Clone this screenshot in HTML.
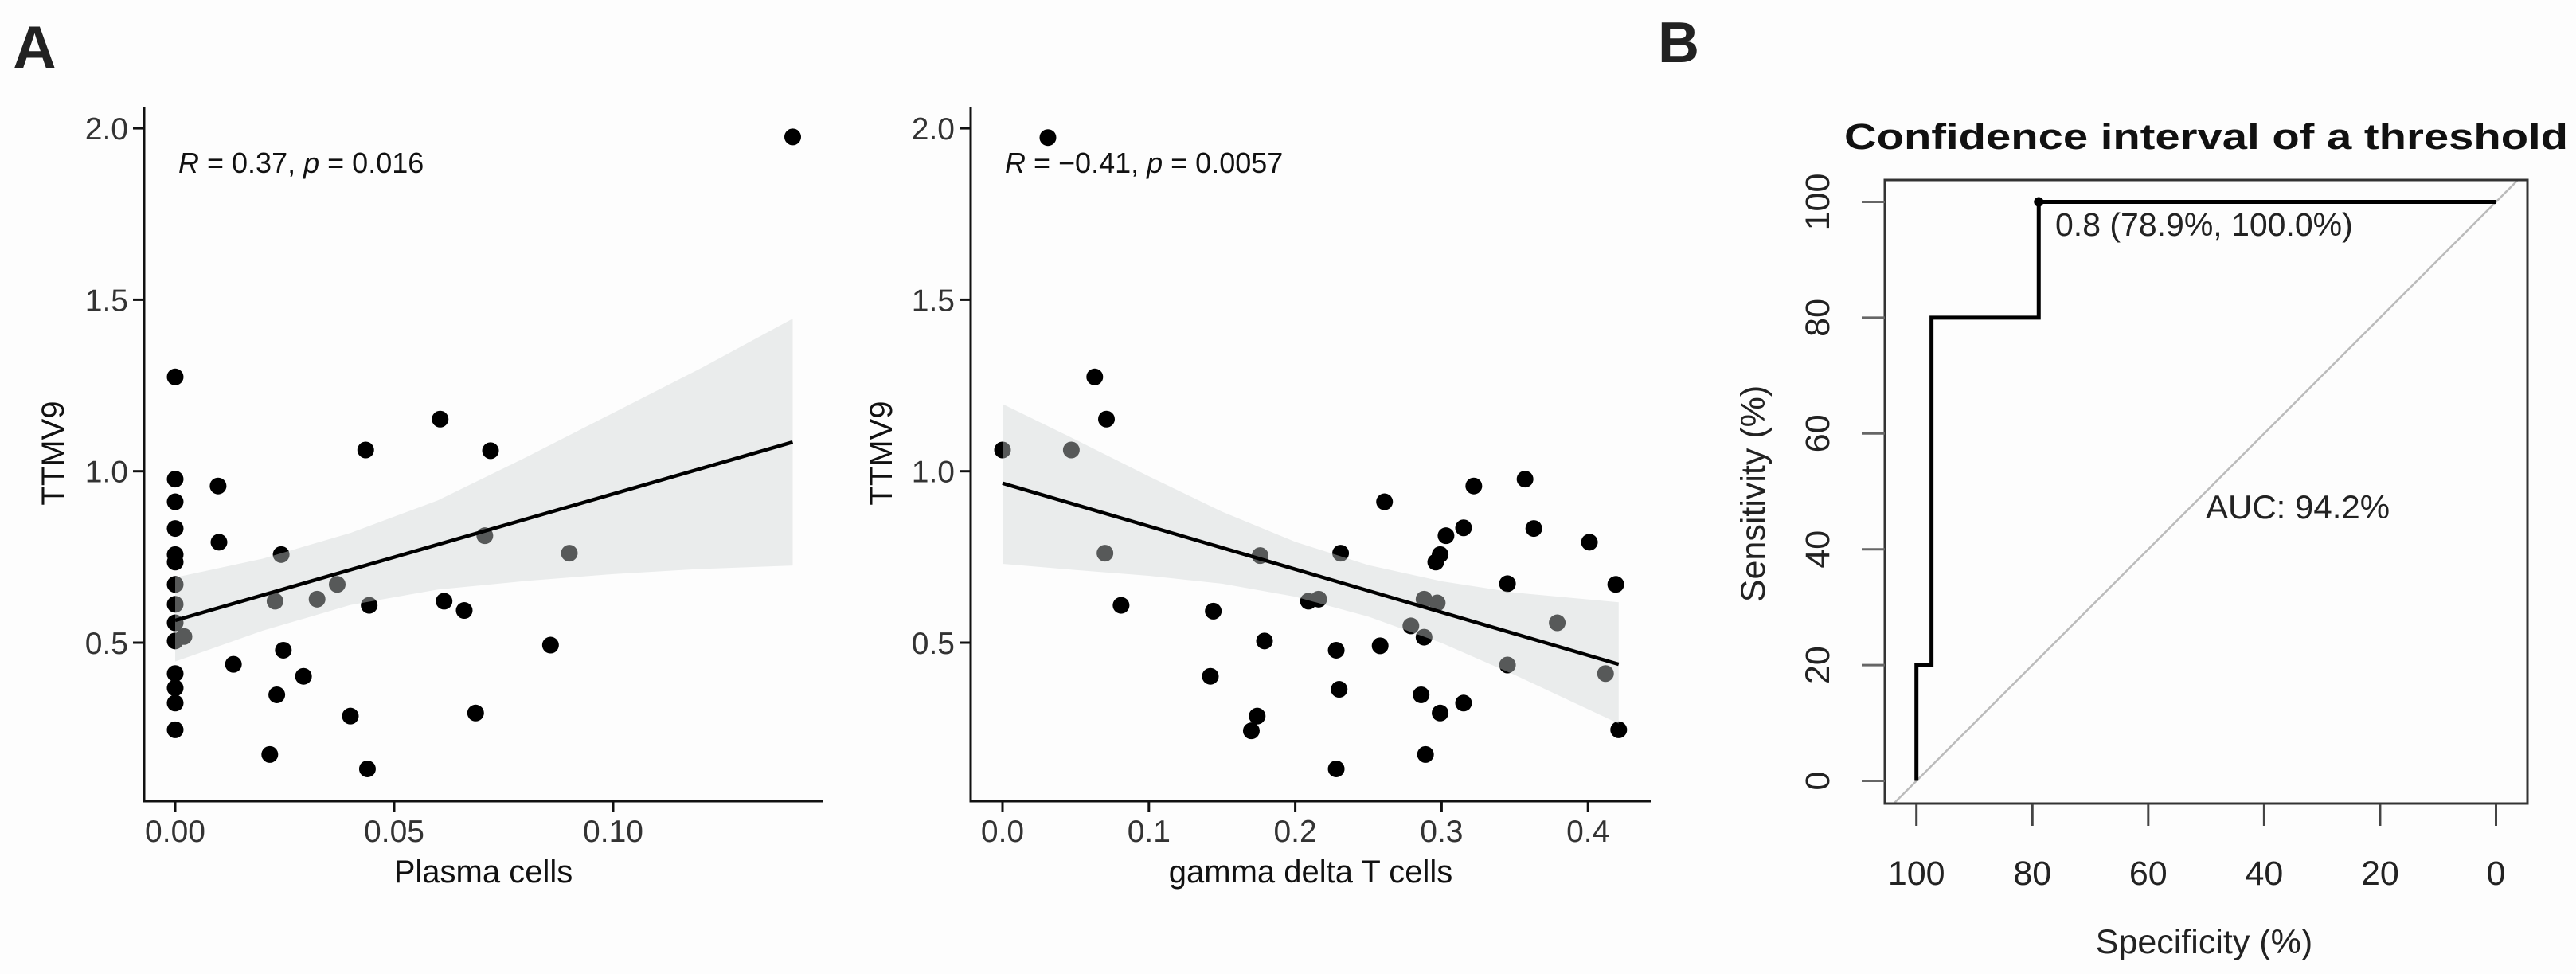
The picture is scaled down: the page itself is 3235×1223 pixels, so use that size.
<!DOCTYPE html>
<html><head><meta charset="utf-8"><style>
html,body{margin:0;padding:0;background:#fdfdfd;}
svg{display:block;font-family:"Liberation Sans",Arial,sans-serif;}
</style></head><body>
<svg id="fig" width="3235" height="1223" viewBox="0 0 3235 1223">
<rect x="0" y="0" width="3235" height="1223" fill="#fdfdfd"/>
<text x="16" y="86" font-size="76" font-weight="bold" fill="#222">A</text>
<text x="2082" y="78" font-size="72" font-weight="bold" fill="#222">B</text>
<g id="p1"></g>
<g id="p2"></g>
<g id="p3"></g>
</svg>
<script>
// ---- Panel 1 data ----
const p1X = [0,0.141,0,0,0,0,0,0,0,0,0,0.002,0,0,0,0,0.0098,0.010,0.0133,0.0216,0.0232,0.0228,0.0242,0.0247,0.0293,0.0324,0.037,0.040,0.0435,0.0443,0.0439,0.0605,0.0614,0.066,0.0686,0.072,0.0707,0.0857,0.090];
const p1Y = [1.275,1.975,0.977,0.911,0.833,0.757,0.735,0.67,0.612,0.558,0.505,0.518,0.41,0.368,0.324,0.246,0.957,0.793,0.437,0.174,0.348,0.621,0.757,0.478,0.402,0.627,0.67,0.286,1.062,0.609,0.132,1.152,0.621,0.594,0.295,1.06,0.812,0.493,0.761];
const p1BandX = [0,0.02,0.04,0.06,0.08,0.10,0.12,0.141];
const p1BandLo = [0.445,0.535,0.61,0.655,0.68,0.70,0.715,0.725];
const p1BandHi = [0.69,0.745,0.82,0.915,1.04,1.17,1.30,1.445];
const p1Fit = [0.565,1.085];
const p1XTicks = [0,0.05,0.10];
const p1XTickLabels = ["0.00","0.05","0.10"];
const yTicks = [0.5,1.0,1.5,2.0];
const yTickLabels = ["0.5","1.0","1.5","2.0"];
// ---- Panel 2 data ----
const p2X = [0.031,0.063,0.071,0,0.047,0.070,0.081,0.144,0.142,0.179,0.176,0.174,0.170,0.209,0.216,0.231,0.228,0.230,0.228,0.258,0.261,0.279,0.288,0.297,0.288,0.286,0.289,0.296,0.299,0.303,0.299,0.315,0.315,0.322,0.345,0.345,0.357,0.363,0.379,0.401,0.412,0.419,0.421];
const p2Y = [1.973,1.275,1.152,1.062,1.062,0.761,0.609,0.592,0.402,0.505,0.754,0.286,0.243,0.621,0.627,0.761,0.478,0.364,0.132,0.491,0.911,0.549,0.627,0.616,0.516,0.348,0.174,0.735,0.757,0.812,0.295,0.835,0.324,0.957,0.672,0.435,0.977,0.833,0.558,0.793,0.41,0.67,0.246];
const p2BandX = [0,0.05,0.1,0.15,0.2,0.25,0.3,0.35,0.421];
const p2BandLo = [0.73,0.712,0.695,0.672,0.634,0.576,0.499,0.406,0.264];
const p2BandHi = [1.196,1.092,0.985,0.882,0.794,0.726,0.679,0.646,0.618];
const p2Fit = [0.965,0.437];
const p2XTicks = [0,0.1,0.2,0.3,0.4];
const p2XTickLabels = ["0.0","0.1","0.2","0.3","0.4"];
// ---- Panel 3 data ----
const rocSpec = [100,100,97.4,97.4,78.9,78.9,0];
const rocSens = [0,20,20,80,80,100,100];
const rocTicks = [0,20,40,60,80,100];
const rocTickLabels = ["0","20","40","60","80","100"];
const threshSpec = 78.9, threshSens = 100;

const NS="http://www.w3.org/2000/svg";
function mk(parent,tag,attrs,text){const e=document.createElementNS(NS,tag);for(const k in attrs)e.setAttribute(k,attrs[k]);if(text!==undefined)e.textContent=text;parent.appendChild(e);return e;}

function scatter(g,cfg){
  const sx=v=>cfg.x0+(v-cfg.xv0)*cfg.kx;
  const sy=v=>807-(v-0.5)*430.6;
  cfg.xs.forEach((v,i)=>{
    const c=mk(g,'circle',{cx:sx(v),cy:sy(cfg.ys[i]),r:10.5,fill:'#000'});
    
    
  });
  let d='';
  cfg.bx.forEach((v,i)=>{d+=(i?'L':'M')+sx(v)+','+sy(cfg.bhi[i]);});
  for(let i=cfg.bx.length-1;i>=0;i--)d+='L'+sx(cfg.bx[i])+','+sy(cfg.blo[i]);
  const band=mk(g,'path',{d:d+'Z',fill:'rgb(208,211,211)','fill-opacity':0.42});
  
  
  const ln=mk(g,'line',{x1:sx(cfg.bx[0]),y1:sy(cfg.fit[0]),x2:sx(cfg.bx[cfg.bx.length-1]),y2:sy(cfg.fit[1]),stroke:'#000','stroke-width':4.5});
  
  
  const ax=mk(g,'path',{d:`M${cfg.axX},134V1006H${cfg.axR}`,fill:'none',stroke:'#111','stroke-width':3});
  
  
  yTicks.forEach((v,i)=>{
    mk(g,'line',{x1:cfg.axX-14,x2:cfg.axX,y1:sy(v),y2:sy(v),stroke:'#111','stroke-width':3});
    const t=mk(g,'text',{x:cfg.axX-20,y:sy(v)+14,'font-size':39,'text-anchor':'end',fill:'#333'},yTickLabels[i]);
    
    
  });
  cfg.xt.forEach((v,i)=>{
    mk(g,'line',{x1:sx(v),x2:sx(v),y1:1006,y2:1020,stroke:'#111','stroke-width':3});
    const t=mk(g,'text',{x:sx(v),y:1057,'font-size':39,'text-anchor':'middle',fill:'#333'},cfg.xtl[i]);
    
    
  });
  const xt=mk(g,'text',{x:cfg.xTitleX,y:1108,'font-size':40,'text-anchor':'middle',fill:'#111'},cfg.xTitle);
  
  
  const yt=mk(g,'text',{x:0,y:0,'font-size':40,'text-anchor':'middle',fill:'#111',transform:`translate(${cfg.yTitleX},569) rotate(-90)`},'TTMV9');
  
  
  const st=mk(g,'text',{x:cfg.axX+43,y:217,'font-size':36,fill:'#111'});
  
  
  st.innerHTML=`<tspan font-style="italic">R</tspan> = ${cfg.r}, <tspan font-style="italic">p</tspan> = ${cfg.p}`;
}
scatter(document.getElementById('p1'),{x0:220,xv0:0,kx:5500,xs:p1X,ys:p1Y,bx:p1BandX,blo:p1BandLo,bhi:p1BandHi,fit:p1Fit,axX:181,axR:1033,xt:p1XTicks,xtl:p1XTickLabels,xTitle:'Plasma cells',xTitleX:607,yTitleX:80,r:'0.37',p:'0.016'});
scatter(document.getElementById('p2'),{x0:1259,xv0:0,kx:1838,xs:p2X,ys:p2Y,bx:p2BandX,blo:p2BandLo,bhi:p2BandHi,fit:p2Fit,axX:1219,axR:2073,xt:p2XTicks,xtl:p2XTickLabels,xTitle:'gamma delta T cells',xTitleX:1646,yTitleX:1120,r:'\u22120.41',p:'0.0057'});

(function(){
  const g=document.getElementById('p3');
  const sx=v=>3134.5-v*7.278;
  const sy=v=>980.5-v*7.27;
  const L=2367,R=3174,T=226,B=1009;
  const cp=mk(g,'clipPath',{id:'boxclip'});mk(cp,'rect',{x:L,y:T,width:R-L,height:B-T});
  const diag=mk(g,'line',{x1:sx(110),y1:sy(-10),x2:sx(-10),y2:sy(110),stroke:'#bbb','stroke-width':2.5,'clip-path':'url(#boxclip)'});
  
  
  const box=mk(g,'rect',{x:L,y:T,width:R-L,height:B-T,fill:'none',stroke:'#333','stroke-width':3});
  
  
  let d='';rocSpec.forEach((v,i)=>{d+=(i?'L':'M')+sx(v)+','+sy(rocSens[i]);});
  const roc=mk(g,'path',{d:d,fill:'none',stroke:'#000','stroke-width':5});
  
  
  const pt=mk(g,'circle',{cx:sx(threshSpec),cy:sy(threshSens),r:6,fill:'#000'});
  
  
  rocTicks.forEach((v,i)=>{
    mk(g,'line',{x1:sx(v),x2:sx(v),y1:B,y2:B+28,stroke:'#444','stroke-width':3});
    const t=mk(g,'text',{x:sx(v),y:1111,'font-size':43,'text-anchor':'middle',fill:'#222'},rocTickLabels[i]);
    
    
    mk(g,'line',{x1:L-29,x2:L,y1:sy(v),y2:sy(v),stroke:'#666','stroke-width':3});
    const u=mk(g,'text',{x:0,y:0,'font-size':43,'text-anchor':'middle',fill:'#222',transform:`translate(2297,${sy(v)}) rotate(-90)`},rocTickLabels[i]);
    
    
  });
  const title=mk(g,'text',{x:2316,y:187,'font-size':45,'font-weight':'bold',fill:'#111',textLength:909,lengthAdjust:'spacingAndGlyphs'},'Confidence interval of a threshold');
  
  
  const xt=mk(g,'text',{x:2768,y:1197,'font-size':43,'text-anchor':'middle',fill:'#222'},'Specificity (%)');
  
  
  const yt=mk(g,'text',{x:0,y:0,'font-size':43,'text-anchor':'middle',fill:'#222',transform:'translate(2216,620) rotate(-90)'},'Sensitivity (%)');
  
  
  const a1=mk(g,'text',{x:2581,y:296,'font-size':41,fill:'#222'},'0.8 (78.9%, 100.0%)');
  
  
  const a2=mk(g,'text',{x:2770,y:651,'font-size':42,fill:'#222'},'AUC: 94.2%');
  
  
})();
</script>
</body></html>
